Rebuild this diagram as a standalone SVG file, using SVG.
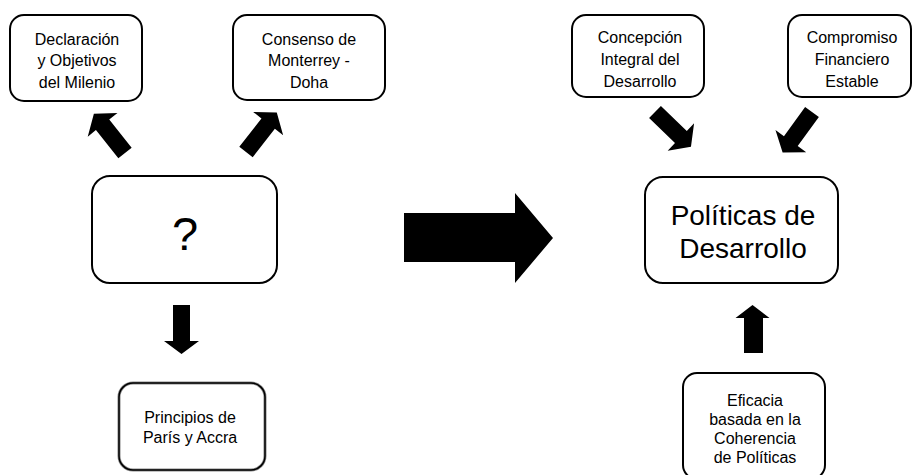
<svg xmlns="http://www.w3.org/2000/svg" width="914" height="475" viewBox="0 0 914 475">
<defs>
<style>
.box{fill:#fff;stroke:#000;stroke-width:2}
.t{font-family:"Liberation Sans",Arial,sans-serif;font-size:16px;fill:#000;text-anchor:middle}
.big{font-size:28px}
.q{font-size:47px}
.arr{fill:#000}
</style>
<polygon id="da" points="0,-8.5 36,-8.5 36,-19 50,0 36,19 36,8.5 0,8.5"/>
</defs>
<rect width="914" height="475" fill="#fff"/>
<g id="n-declaracion">
<rect class="box" x="10" y="15" width="132" height="86" rx="14"/>
<text class="t" x="77" y="45">Declaración</text>
<text class="t" x="77" y="66">y Objetivos</text>
<text class="t" x="77" y="88">del Milenio</text>
</g>
<g id="n-consenso">
<rect class="box" x="233" y="15" width="152" height="85" rx="14"/>
<text class="t" x="309" y="45">Consenso de</text>
<text class="t" x="309" y="66">Monterrey -</text>
<text class="t" x="309" y="88">Doha</text>
</g>
<g id="n-pregunta">
<rect class="box" x="92" y="176" width="185" height="107" rx="18"/>
<text class="t q" x="185" y="250">?</text>
</g>
<g id="n-principios">
<rect x="119" y="383" width="146" height="87" rx="14" fill="#fff" stroke="#888" stroke-width="3"/>
<rect x="119" y="383" width="146" height="87" rx="14" fill="none" stroke="#000" stroke-width="1.5"/>
<text class="t" x="190" y="423">Principios de</text>
<text class="t" x="190" y="443">París y Accra</text>
</g>
<g id="n-concepcion">
<rect class="box" x="572" y="15" width="132" height="82" rx="14"/>
<text class="t" x="640" y="43">Concepción</text>
<text class="t" x="640" y="65">Integral del</text>
<text class="t" x="640" y="87">Desarrollo</text>
</g>
<g id="n-compromiso">
<rect class="box" x="788" y="15" width="123" height="82" rx="14"/>
<text class="t" x="852" y="43">Compromiso</text>
<text class="t" x="852" y="65">Financiero</text>
<text class="t" x="852" y="87">Estable</text>
</g>
<g id="n-politicas">
<rect class="box" x="645" y="177" width="193" height="106" rx="18"/>
<text class="t big" x="743" y="225">Políticas de</text>
<text class="t big" x="743" y="258">Desarrollo</text>
</g>
<g id="n-eficacia">
<rect class="box" x="683" y="373" width="142" height="106" rx="14"/>
<text class="t" x="755" y="406">Eficacia</text>
<text class="t" x="755" y="425">basada en la</text>
<text class="t" x="755" y="444">Coherencia</text>
<text class="t" x="755" y="463">de Políticas</text>
</g>
<g id="connectors">
<use href="#da" class="arr" transform="translate(125,153) rotate(-128.5)"/>
<use href="#da" class="arr" transform="translate(246,152) rotate(-52)"/>
<use href="#da" class="arr" transform="translate(655,112) rotate(44)"/>
<use href="#da" class="arr" transform="translate(812,112) rotate(126)"/>
<polygon class="arr" points="173,305 190,305 190,341 199,341 181.5,354 164,341 173,341"/>
<polygon class="arr" points="744,353 763,353 763,318 769.5,318 752.5,305 735.5,318 744,318"/>
<polygon class="arr" points="404,213 515,213 515,193 553,238 515,283 515,262 404,262"/>
</g>
</svg>
